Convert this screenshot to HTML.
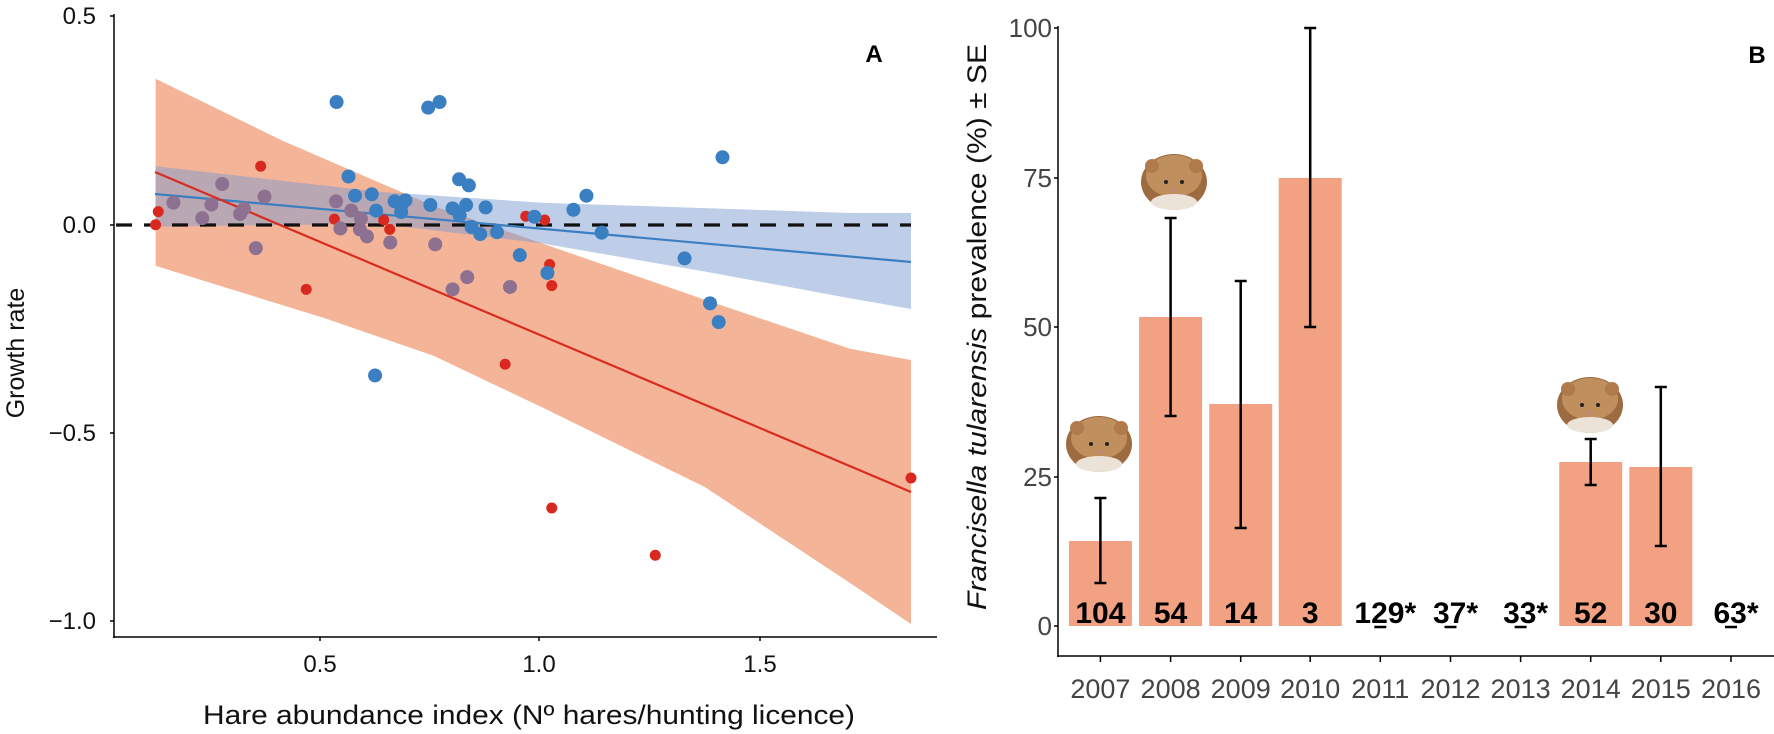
<!DOCTYPE html>
<html><head><meta charset="utf-8"><style>
html,body{margin:0;padding:0;background:#fff;}
svg{display:block;font-family:"Liberation Sans",sans-serif;}
</style></head><body>
<svg id="s" width="1774" height="734" xmlns="http://www.w3.org/2000/svg">
<rect width="1774" height="734" fill="#fff"/>
<g id="A"></g>
<line x1="114" y1="14" x2="114" y2="638" stroke="#000" stroke-width="1.5"/>
<line x1="113" y1="637" x2="937" y2="637" stroke="#000" stroke-width="1.5"/>
<g stroke="#000" stroke-width="1.5">
<line x1="110" y1="16" x2="114" y2="16"/><line x1="110" y1="225" x2="114" y2="225"/>
<line x1="110" y1="433" x2="114" y2="433"/><line x1="110" y1="621" x2="114" y2="621"/>
<line x1="320" y1="637" x2="320" y2="641"/><line x1="539" y1="637" x2="539" y2="641"/><line x1="760" y1="637" x2="760" y2="641"/>
</g>
<g font-size="24" text-anchor="end" fill="#111">
<text x="96" y="24">0.5</text><text x="96" y="233">0.0</text>
<text x="96" y="441">−0.5</text><text x="96" y="629">−1.0</text>
</g>
<g font-size="24" text-anchor="middle" fill="#111">
<text x="320" y="672">0.5</text><text x="539" y="672">1.0</text><text x="760" y="672">1.5</text>
</g>
<text x="203" y="724" font-size="27" fill="#111" textLength="652" lengthAdjust="spacingAndGlyphs">Hare abundance index (Nº hares/hunting licence)</text>
<text transform="translate(24,353) rotate(-90)" font-size="25" text-anchor="middle" fill="#111">Growth rate</text>
<text x="874" y="62" font-size="24" font-weight="bold" text-anchor="middle">A</text>

<g id="B"></g>
<line x1="1058" y1="26" x2="1058" y2="657" stroke="#000" stroke-width="1.5"/>
<line x1="1057" y1="656" x2="1774" y2="656" stroke="#000" stroke-width="1.5"/>
<g stroke="#000" stroke-width="1.5">
<line x1="1054" y1="28" x2="1058" y2="28"/><line x1="1054" y1="178" x2="1058" y2="178"/><line x1="1054" y1="327" x2="1058" y2="327"/><line x1="1054" y1="477" x2="1058" y2="477"/><line x1="1054" y1="626" x2="1058" y2="626"/>
</g>
<g font-size="26" text-anchor="end" fill="#444">
<text x="1052" y="37">100</text><text x="1052" y="187">75</text><text x="1052" y="336">50</text>
<text x="1052" y="486">25</text><text x="1052" y="635">0</text>
</g>
<text transform="translate(986,327) rotate(-90)" font-size="27" text-anchor="middle" fill="#111" textLength="566" lengthAdjust="spacingAndGlyphs"><tspan font-style="italic">Francisella tularensis</tspan> prevalence (%) ± SE</text>
<text x="1757" y="63" font-size="24" font-weight="bold" text-anchor="middle">B</text>
</svg>
<script>
const NS="http://www.w3.org/2000/svg";
function el(p,t,a){const e=document.createElementNS(NS,t);for(const k in a)e.setAttribute(k,a[k]);p.appendChild(e);return e;}
const A=document.getElementById('A');
const cx=x=>x/1.845, cy=y=>y/2.136;
function pts(arr){return arr.map(p=>cx(p[0]).toFixed(1)+','+cy(p[1]).toFixed(1)).join(' ');}
const redTop=[[287,168],[520,300],[800,440],[1000,520],[1300,640],[1568,745]];
const redBot=[[287,568],[600,680],[800,760],[1000,870],[1300,1040],[1568,1245]];
let rp=pts(redTop)+' 911,360 911,624 '+pts(redBot.slice().reverse());
el(A,'polygon',{points:rp,fill:'#f4b497'});
const bTop=[[287,355],[700,410],[1000,433],[1568,455]];
const bBot=[[287,484],[700,478],[1000,520],[1300,580],[1568,637]];
let bp=pts(bTop)+' 911,213 911,309 '+pts(bBot.slice().reverse());
el(A,'polygon',{points:bp,fill:'#7d9bd1','fill-opacity':'0.5'});
el(A,'line',{x1:116,y1:225,x2:911,y2:225,stroke:'#111','stroke-width':3.2,'stroke-dasharray':'16,12'});
el(A,'line',{x1:155,y1:194,x2:911,y2:262,stroke:'#3b7fc1','stroke-width':2.2});
el(A,'line',{x1:155,y1:172,x2:911,y2:492,stroke:'#d92b20','stroke-width':2.2});
const blue=[[621,218],[790,230],[811,218],[1333,336],[643,377],[655,418],[686,415],[847,383],[865,396],[1082,418],[728,430],[748,428],[794,438],[835,445],[860,438],[896,443],[1058,448],[694,450],[740,453],[848,460],[870,485],[886,500],[917,496],[986,463],[1110,497],[959,545],[1010,583],[1263,552],[1310,648],[1326,688],[692,802],[740,440]];
const purple=[[320,433],[390,437],[410,393],[488,420],[373,466],[443,457],[450,446],[620,430],[648,450],[666,467],[472,530],[628,488],[664,490],[677,505],[720,518],[803,522],[835,618],[862,592],[941,613]];
const red=[[287,480],[292,452],[481,355],[565,618],[617,468],[708,470],[719,490],[970,462],[1005,470],[1014,565],[1018,610],[932,778],[1018,1085],[1209,1186]];
red.forEach(p=>el(A,'circle',{cx:cx(p[0]),cy:cy(p[1]),r:5.5,fill:'#d9281f'}));
el(A,'circle',{cx:911,cy:478,r:5.5,fill:'#d9281f'});
purple.forEach(p=>el(A,'circle',{cx:cx(p[0]),cy:cy(p[1]),r:7,fill:'#8e7190'}));
blue.forEach(p=>el(A,'circle',{cx:cx(p[0]),cy:cy(p[1]),r:7,fill:'#3a7fc1'}));
const B=document.getElementById('B');
const xs=[1100.4,1170.6,1240.7,1310.2,1380.3,1450.5,1520.6,1590.7,1660.8,1731];
const tops=[541,317,404,178,null,null,null,462,467,null];
const err=[[498,583],[218,416],[281,528],[28,327],null,null,null,[439,485],[387,546],null];
const labs=['104','54','14','3','129*','37*','33*','52','30','63*'];
xs.forEach((x,i)=>{
  if(tops[i]!==null) el(B,'rect',{x:x-31.5,y:tops[i],width:63,height:626-tops[i],fill:'#f2a283'});
});
xs.forEach((x,i)=>{
  el(B,'line',{x1:x,y1:656,x2:x,y2:662,stroke:'#000','stroke-width':1.5});
  const t=el(B,'text',{x:x,y:698,'font-size':27,'text-anchor':'middle',fill:'#444'});t.textContent=String(2007+i);
  if(err[i]){const[a,b]=err[i];
    el(B,'line',{x1:x,y1:a,x2:x,y2:b,stroke:'#000','stroke-width':2.5});
    el(B,'line',{x1:x-6,y1:a,x2:x+6,y2:a,stroke:'#000','stroke-width':2.5});
    el(B,'line',{x1:x-6,y1:b,x2:x+6,y2:b,stroke:'#000','stroke-width':2.5});
  } else {
    el(B,'line',{x1:x-6,y1:627,x2:x+6,y2:627,stroke:'#000','stroke-width':2.5});
  }
  const l=el(B,'text',{x:x,y:623,'font-size':30,'font-weight':'bold','text-anchor':'middle',fill:'#000'});
  if(labs[i].includes('*')){l.setAttribute('x',x+5);}
  l.textContent=labs[i];
});
function mouse(x,y){
  const g=el(B,'g',{});
  el(g,'ellipse',{cx:x,cy:y+2,rx:33,ry:28,fill:'#9c6b40'});
  el(g,'ellipse',{cx:x,cy:y-4,rx:28,ry:21,fill:'#bf8f5e'});
  el(g,'circle',{cx:x-22,cy:y-14,r:7,fill:'#b07a4c'});
  el(g,'circle',{cx:x+22,cy:y-14,r:7,fill:'#b07a4c'});
  el(g,'ellipse',{cx:x,cy:y+22,rx:23,ry:8,fill:'#ece3d8'});
  el(g,'circle',{cx:x-8,cy:y+2,r:2,fill:'#222'});
  el(g,'circle',{cx:x+8,cy:y+2,r:2,fill:'#222'});
  el(g,'circle',{cx:x,cy:y+10,r:2,fill:'#c88080'});
}
mouse(1099,442);mouse(1174,180);mouse(1590,403);
</script>
</body></html>
